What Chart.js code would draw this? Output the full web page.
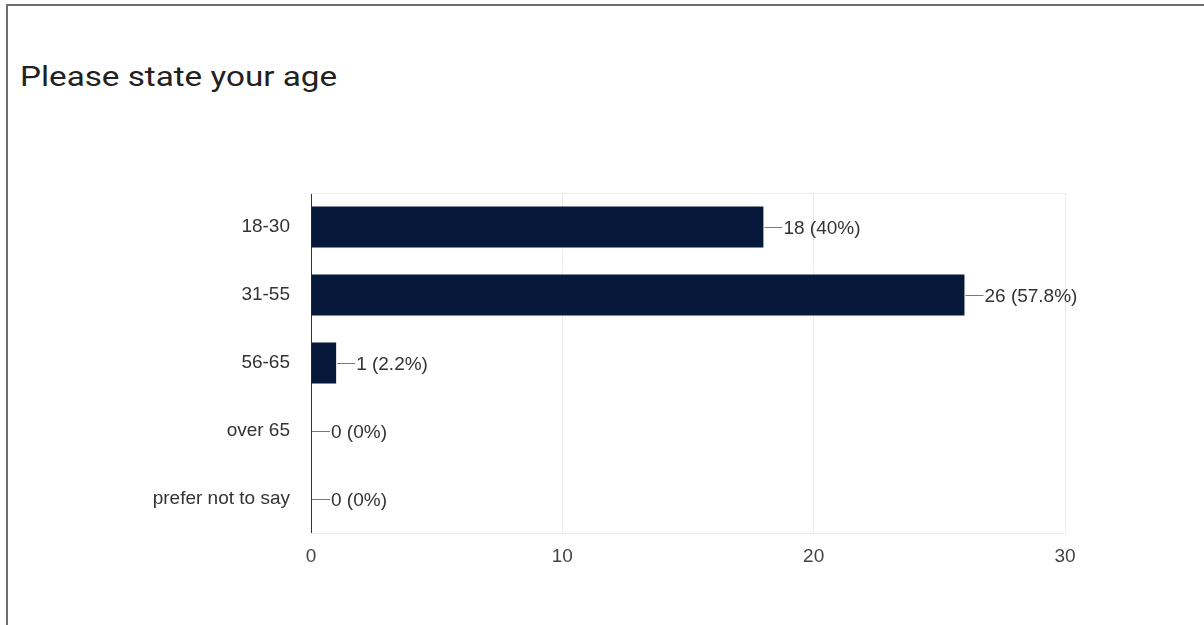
<!DOCTYPE html>
<html>
<head>
<meta charset="utf-8">
<script src="https://cdn.jsdelivr.net/npm/chart.js@4.4.0/dist/chart.umd.min.js"></script>
<style>
    body { margin: 0; background: #fff; }
    #wrap { position: relative; width: 1204px; height: 625px; overflow: hidden; }
    #frame {
        position: absolute; left: 6px; top: 4px; width: 1210px; height: 640px;
        border-top: 2px solid #6e6e6e; border-left: 2px solid #6e6e6e;
    }
    #title {
        position: absolute; left: 20px; top: 61px;
        font: 27px Roboto, sans-serif; color: #212121;
        transform: scaleX(1.23); transform-origin: left top;
    }
    canvas { position: absolute; left: 0; top: 0; }
</style>
</head>
<body>
<div id="wrap">
    <div id="frame"></div>
    <div id="title">Please state your age</div>
    <canvas id="chart-umur" width="1204" height="625"></canvas>
</div>
<script>
const kategoriUmur = ["18-30", "31-55", "56-65", "over 65", "prefer not to say"];
const jumlahResponden = [18, 26, 1, 0, 0];
const tickNilai = [0, 10, 20, 30];

const totalResponden = jumlahResponden.reduce((a, b) => a + b, 0);
const fontLabel = "'Liberation Sans', Arial, sans-serif";

// label nilai dengan garis kecil di ujung bar
const labelNilaiPlugin = {
    id: "labelNilai",
    afterDatasetsDraw(chart) {
        const ctx = chart.ctx;
        const meta = chart.getDatasetMeta(0);
        ctx.save();
        ctx.font = "19px " + fontLabel;
        ctx.textBaseline = "middle";
        meta.data.forEach((bar, i) => {
            const v = jumlahResponden[i];
            const pct = Math.round((v / totalResponden) * 1000) / 10;
            const x = bar.x;
            const y = Math.round(bar.y) + 0.5;
            ctx.strokeStyle = "#7a7a7a";
            ctx.lineWidth = 1;
            ctx.beginPath();
            ctx.moveTo(x + 1, y);
            ctx.lineTo(x + 19, y);
            ctx.stroke();
            ctx.fillStyle = "#333";
            ctx.fillText(v + " (" + pct + "%)", x + 20, y + 1);
        });
        ctx.restore();
    },
    beforeDatasetsDraw(chart) {
        // garis tipis atas & bawah area grafik
        const { ctx, chartArea } = chart;
        ctx.save();
        ctx.strokeStyle = "#ebebeb";
        ctx.lineWidth = 1;
        ctx.beginPath();
        ctx.moveTo(chartArea.left, chartArea.top + 0.5);
        ctx.lineTo(chartArea.right, chartArea.top + 0.5);
        ctx.moveTo(chartArea.left, chartArea.bottom + 0.5);
        ctx.lineTo(chartArea.right, chartArea.bottom + 0.5);
        ctx.stroke();
        ctx.restore();
    },
};

const dataUmur = {
    labels: kategoriUmur,
    datasets: [
        {
            label: "Responden",
            data: jumlahResponden,
            backgroundColor: "#07193a",
            borderWidth: 0,
            categoryPercentage: 1,
            barPercentage: 0.6,
        },
    ],
};

const configUmur = {
    type: "bar",
    data: dataUmur,
    plugins: [labelNilaiPlugin],
    options: {
        indexAxis: "y",
        responsive: false,
        animation: false,
        layout: {
            padding: { top: 193, right: 139, bottom: 0, left: 0 },
        },
        plugins: {
            legend: { display: false },
            tooltip: { enabled: false },
        },
        scales: {
            x: {
                min: 0,
                max: 30,
                afterBuildTicks: (scale) => {
                    scale.ticks = tickNilai.map((v) => ({ value: v }));
                },
                afterFit: (scale) => {
                    scale.height = 92;
                },
                ticks: {
                    color: "#444",
                    padding: 12,
                    font: { family: fontLabel, size: 19 },
                },
                grid: {
                    color: (c) => (c.tick && c.tick.value === 0 ? "rgba(0,0,0,0)" : "#ebebeb"),
                    drawTicks: false,
                },
                border: { display: false },
            },
            y: {
                afterFit: (scale) => {
                    scale.width = 311;
                },
                ticks: {
                    color: "#333",
                    padding: 21,
                    font: { family: fontLabel, size: 19 },
                },
                grid: { display: false, drawTicks: false },
                border: { display: true, color: "#333", width: 1 },
            },
        },
    },
};

new Chart(document.getElementById("chart-umur"), configUmur);
</script>
</body>
</html>
